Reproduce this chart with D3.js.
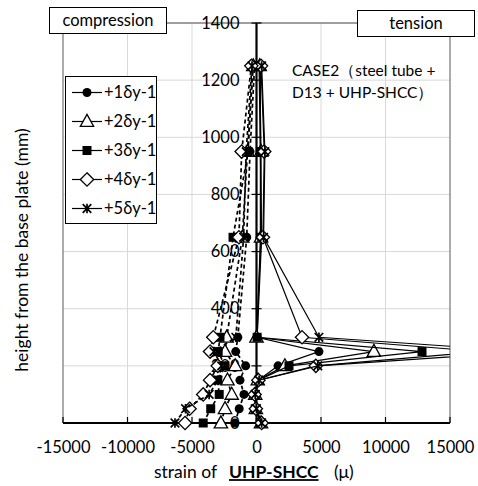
<!DOCTYPE html>
<html><head><meta charset="utf-8">
<script src="https://cdn.jsdelivr.net/npm/d3@7"></script>
<style>body{margin:0;background:#fff}svg{display:block}text{font-family:Lato,"Open Sans",sans-serif;fill:#000}</style>
</head><body>
<script>
// ---- data ----
const heights = [0, 50, 100, 150, 200, 250, 300, 650, 950, 1250];
const seriesNames = ["+1δy-1", "+2δy-1", "+3δy-1", "+4δy-1", "+5δy-1"];
const seriesMarkers = ["circle", "triangle", "square", "diamond", "star"];
// tension-side gauges (solid lines)
const tension1 = [300, 0, -100, 150, 1670, 4840, 50, 300, 300, 200];
const tension2 = [350, -50, -100, 100, 2200, 9100, 0, 350, 350, 250];
const tension3 = [300, -100, -100, 150, 2520, 12830, 50, 400, 300, 300];
const tension4 = [400, -50, -150, 150, 4600, 17500, 3530, 500, 600, 350];
const tension5 = [400, 0, -100, 200, 4750, 21000, 4840, 550, 650, 400];
// compression-side gauges (dashed lines)
const compression1 = [-1670, -1340, -970, -1280, -840, -1610, -1450, -760, -500, -150];
const compression2 = [-2760, -2440, -1920, -2250, -1650, -2440, -2310, -1100, -700, -250];
const compression3 = [-4130, -3550, -2890, -3000, -2450, -2970, -2830, -1820, -650, -300];
const compression4 = [-5540, -5190, -4130, -3600, -3000, -3600, -3350, -1360, -1150, -400];
const compression5 = [-6320, -5500, -3670, -3000, -2700, -3300, -1600, -1000, -800, -350];
const xTicks = [-15000, -10000, -5000, 0, 5000, 10000, 15000];
const yTicks = [0, 200, 400, 600, 800, 1000, 1200, 1400];

const tensions = [tension1, tension2, tension3, tension4, tension5];
const compressions = [compression1, compression2, compression3, compression4, compression5];

const W = 478, H = 486;
const FS = 16.5;
const fmt = d => String(d);
const svg = d3.select("body").append("svg").attr("width", W).attr("height", H);
const x = d3.scaleLinear().domain([-15000, 15000]).range([63, 450]);
const y = d3.scaleLinear().domain([0, 1400]).range([423, 23]);

// gridlines
svg.append("g").selectAll("line").data(yTicks.filter(d => d > 0 && d < 1400)).join("line")
  .attr("x1", x(-15000)).attr("x2", x(15000)).attr("y1", d => y(d)).attr("y2", d => y(d))
  .attr("stroke", "#d9d9d9").attr("stroke-width", 1);
svg.append("g").selectAll("line").data(xTicks.filter(d => d > -15000 && d < 15000 && d !== 0)).join("line")
  .attr("x1", d => x(d)).attr("x2", d => x(d)).attr("y1", y(0)).attr("y2", y(1400))
  .attr("stroke", "#d9d9d9").attr("stroke-width", 1);

// plot border (grey)
svg.append("path").attr("d", `M${x(-15000)},${y(0)}V${y(1400)}H${x(15000)}V${y(0)}`)
  .attr("fill", "none").attr("stroke", "#7f7f7f").attr("stroke-width", 1.3);

// x axis at y=0
const xAxis = d3.axisBottom(x).tickValues(xTicks).tickSize(0).tickPadding(18).tickFormat(fmt);
const gx = svg.append("g").attr("transform", `translate(0,${y(0)})`).call(xAxis);
gx.select(".domain").remove();
gx.selectAll("text").attr("font-size", FS).attr("font-family", "Lato");
svg.append("g").selectAll("line").data(xTicks).join("line")
  .attr("x1", d => x(d)).attr("x2", d => x(d)).attr("y1", y(0) - 6).attr("y2", y(0))
  .attr("stroke", "#000").attr("stroke-width", 1.2);

// y axis at x=0
const yAxis = d3.axisLeft(y).tickValues(yTicks).tickSize(0).tickPadding(17).tickFormat(fmt);
const gy = svg.append("g").attr("transform", `translate(${x(0)},0)`).call(yAxis);
gy.select(".domain").remove();
gy.selectAll("text").attr("font-size", FS).attr("font-family", "Lato");
svg.append("g").selectAll("line").data(yTicks).join("line")
  .attr("x1", x(0) - 5).attr("x2", x(0) + 5).attr("y1", d => y(d)).attr("y2", d => y(d))
  .attr("stroke", "#000").attr("stroke-width", 1.2);
svg.append("line").attr("x1", x(0)).attr("x2", x(0)).attr("y1", y(0)).attr("y2", y(1400))
  .attr("stroke", "#000").attr("stroke-width", 2.2);
svg.append("line").attr("x1", x(-15000)).attr("x2", x(15000)).attr("y1", y(0)).attr("y2", y(0))
  .attr("stroke", "#000").attr("stroke-width", 2.2);

// clip for lines
svg.append("clipPath").attr("id", "clip").append("rect")
  .attr("x", x(-15000)).attr("y", 0).attr("width", x(15000) - x(-15000)).attr("height", H);

function markerPath(type, s) {
  const p = d3.path();
  if (type === "triangle") { p.moveTo(0, -s * 0.62); p.lineTo(s * 0.58, s * 0.42); p.lineTo(-s * 0.58, s * 0.42); p.closePath(); }
  else if (type === "square") { p.rect(-s / 2, -s / 2, s, s); }
  else if (type === "diamond") { p.moveTo(0, -s * 0.58); p.lineTo(s * 0.58, 0); p.lineTo(0, s * 0.58); p.lineTo(-s * 0.58, 0); p.closePath(); }
  else if (type === "star") { const a = s * 0.45; p.moveTo(-a, -a); p.lineTo(a, a); p.moveTo(a, -a); p.lineTo(-a, a); p.moveTo(0, -a * 1.1); p.lineTo(0, a * 1.1); }
  return p.toString();
}
function drawMarker(g, type, cx, cy) {
  if (type === "circle") {
    g.append("circle").attr("cx", cx).attr("cy", cy).attr("r", 4.5).attr("fill", "#000");
  } else if (type === "square") {
    g.append("path").attr("d", markerPath("square", 9)).attr("transform", `translate(${cx},${cy})`).attr("fill", "#000");
  } else if (type === "triangle") {
    g.append("path").attr("d", markerPath("triangle", 11.5)).attr("transform", `translate(${cx},${cy})`)
      .attr("fill", "#fff").attr("stroke", "#000").attr("stroke-width", 1.3);
  } else if (type === "diamond") {
    g.append("path").attr("d", markerPath("diamond", 11.5)).attr("transform", `translate(${cx},${cy})`)
      .attr("fill", "#fff").attr("stroke", "#000").attr("stroke-width", 1.3);
  } else {
    g.append("path").attr("d", markerPath("star", 9.5)).attr("transform", `translate(${cx},${cy})`)
      .attr("fill", "none").attr("stroke", "#000").attr("stroke-width", 1.7);
  }
}

const line = d3.line().x(d => x(d[0])).y(d => y(d[1]));
const dataG = svg.append("g");
seriesNames.forEach((name, i) => {
  const g = dataG.append("g");
  const tPts = heights.map((h, j) => [tensions[i][j], h]);
  const cPts = heights.map((h, j) => [compressions[i][j], h]);
  g.append("path").attr("d", line(tPts)).attr("clip-path", "url(#clip)")
    .attr("fill", "none").attr("stroke", "#000").attr("stroke-width", 1.2);
  g.append("path").attr("d", line(cPts)).attr("clip-path", "url(#clip)")
    .attr("fill", "none").attr("stroke", "#000").attr("stroke-width", 1.7).attr("stroke-dasharray", "4,3");
  [...tPts, ...cPts].forEach(p => {
    if (p[0] <= 15000 && p[0] >= -15000) drawMarker(g, seriesMarkers[i], x(p[0]), y(p[1]));
  });
});

// compression / tension labels
function labelBox(x0, y0, w, h, txt) {
  svg.append("rect").attr("x", x0).attr("y", y0).attr("width", w).attr("height", h)
    .attr("fill", "#fff").attr("stroke", "#000").attr("stroke-width", 1);
  svg.append("text").attr("x", x0 + w / 2).attr("y", y0 + h / 2).attr("dy", "0.35em")
    .attr("text-anchor", "middle").attr("font-size", FS).text(txt);
}
labelBox(49.5, 7.5, 117, 26, "compression");
labelBox(357.5, 10.5, 117, 26, "tension");

// case text
svg.append("text").attr("x", 292).attr("y", 76).attr("font-size", 15.5).text("CASE2（steel tube +");
svg.append("text").attr("x", 292).attr("y", 98).attr("font-size", 15.5).text("D13 + UHP-SHCC）");

// legend
const lg = svg.append("g");
lg.append("rect").attr("x", 65.5).attr("y", 76.5).attr("width", 91).attr("height", 147)
  .attr("fill", "#fff").attr("stroke", "#000").attr("stroke-width", 1);
seriesNames.forEach((name, i) => {
  const cy = 92.5 + i * 29;
  lg.append("line").attr("x1", 72).attr("x2", 102).attr("y1", cy).attr("y2", cy)
    .attr("stroke", "#000").attr("stroke-width", 1.2);
  drawMarker(lg, seriesMarkers[i], 87, cy);
  lg.append("text").attr("x", 104).attr("y", cy).attr("dy", "0.35em").attr("font-size", FS).text(name);
});

// axis titles
const TY = 472;
svg.append("text").attr("x", 154).attr("y", TY).attr("dy", "0.35em").attr("font-size", 17.5).text("strain of");
svg.append("text").attr("x", 229).attr("y", TY).attr("dy", "0.35em").attr("font-size", 17.5)
  .attr("font-weight", "bold").attr("text-decoration", "underline").text("UHP-SHCC");
svg.append("text").attr("x", 334).attr("y", TY).attr("dy", "0.35em").attr("font-size", 17.5).text("(μ)");
svg.append("text").attr("transform", "translate(22,250) rotate(-90)").attr("dy", "0.35em")
  .attr("text-anchor", "middle").attr("font-size", 17.5).text("height from the base plate (mm)");
</script>
</body></html>
